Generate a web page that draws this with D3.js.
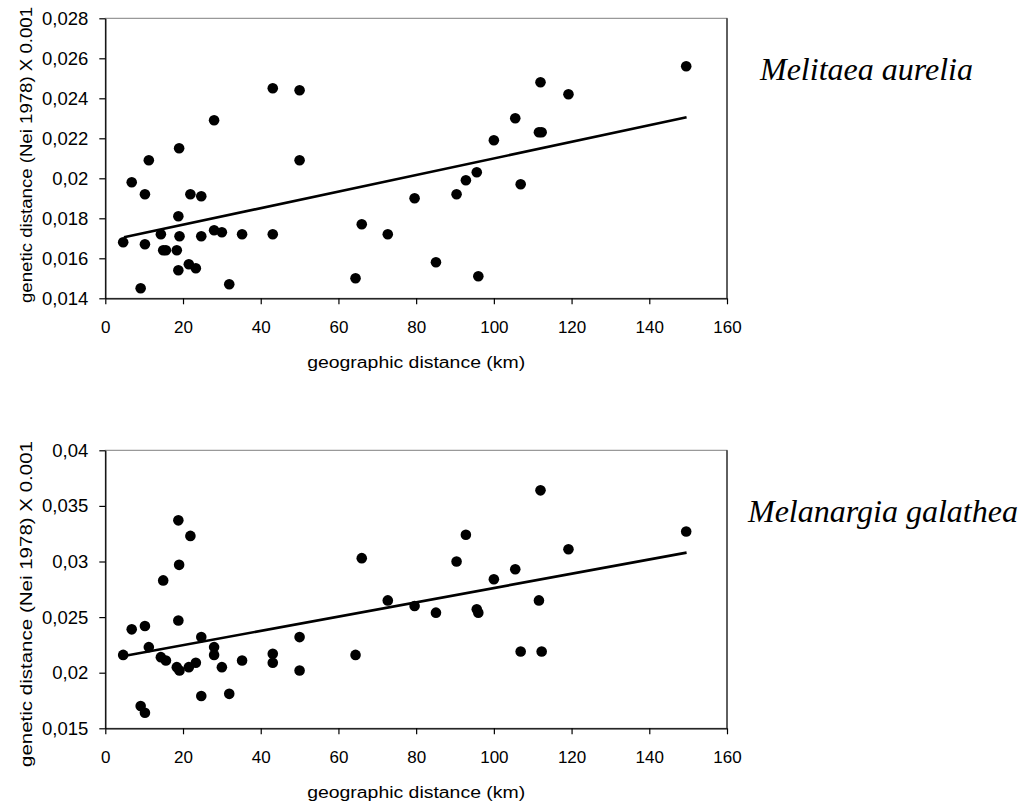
<!DOCTYPE html>
<html>
<head>
<meta charset="utf-8">
<script src="https://cdn.jsdelivr.net/npm/d3@7"></script>
<style>
  body { margin: 0; background: #fff; }
  svg { display: block; }
  .axisTitle { font-family: "Liberation Sans", Arial, sans-serif; font-size: 16px; fill: #000; }
  .species { font-family: "Liberation Serif", "Times New Roman", serif; font-style: italic; font-size: 32px; fill: #000; }
</style>
</head>
<body>
<div id="chart"></div>
<script>
// geographic distance (km) of each population pair, shared by both species
var distance = [4.6, 6.8, 9.1, 10.2, 10.2, 11.2, 14.3, 14.9, 15.6, 18.4,
    18.8, 18.8, 19.0, 19.1, 21.5, 21.9, 23.3, 24.7, 24.7, 28.0,
    28.0, 30.0, 31.9, 35.2, 43.1, 43.1, 50.0, 50.0, 64.4, 66.0,
    72.7, 79.6, 85.1, 90.4, 92.8, 95.6, 96.0, 100.0, 105.5, 106.9,
    111.6, 112.3, 112.0, 119.2, 149.5];

// genetic distance, Melitaea aurelia
var aurelia = [0.0168, 0.0198, 0.0145, 0.0192, 0.0167, 0.0209, 0.0172, 0.0164, 0.0164, 0.0164,
    0.0181, 0.0154, 0.0215, 0.0171, 0.0157, 0.0192, 0.0155, 0.0191, 0.0171, 0.0229,
    0.0174, 0.0173, 0.0147, 0.0172, 0.0245, 0.0172, 0.0244, 0.0209, 0.0150, 0.0177,
    0.0172, 0.0190, 0.0158, 0.0192, 0.0199, 0.0203, 0.0151, 0.0219, 0.0230, 0.0197,
    0.0223, 0.0223, 0.0248, 0.0242, 0.0256];

// genetic distance, Melanargia galathea
var galathea = [0.0216, 0.0239, 0.0170, 0.0164, 0.0242, 0.0223, 0.0214, 0.0283, 0.0211, 0.0205,
    0.0337, 0.0247, 0.0297, 0.0202, 0.0205, 0.0323, 0.0209, 0.0232, 0.0179, 0.0223,
    0.0216, 0.0205, 0.0181, 0.0211, 0.0217, 0.0209, 0.0232, 0.0202, 0.0216, 0.0303,
    0.0265, 0.0260, 0.0254, 0.0300, 0.0324, 0.0257, 0.0254, 0.0284, 0.0293, 0.0219,
    0.0265, 0.0219, 0.0364, 0.0311, 0.0327];

// linear trend lines (ends)
var trendX = [4.8, 149.6];
var trendAurelia = [0.01705, 0.02305];
var trendGalathea = [0.0215, 0.0308];

// tick labels
var xTicks = [0, 20, 40, 60, 80, 100, 120, 140, 160];
var yTicksAurelia = [0.014, 0.016, 0.018, 0.02, 0.022, 0.024, 0.026, 0.028];
var yTicksGalathea = [0.015, 0.02, 0.025, 0.03, 0.035, 0.04];

var svgWidth = 1035;
var svgHeight = 802;

var svg = d3.select("#chart")
    .append("svg")
    .attr("width", svgWidth)
    .attr("height", svgHeight);

var left = 105.3, right = 727;

function fmt(d) {
    return String(+d.toFixed(3)).replace(".", ",");
}

function drawPanel(p) {
    var xScale = d3.scaleLinear().domain([0, 160]).range([left, right]);
    var yScale = d3.scaleLinear()
        .domain([p.yTicks[0], p.yTicks[p.yTicks.length - 1]])
        .range([p.bottom, p.top]);

    var g = svg.append("g");

    // plot frame
    g.append("rect")
        .attr("x", left).attr("y", p.top)
        .attr("width", right - left).attr("height", p.bottom - p.top)
        .attr("fill", "none")
        .attr("stroke", "#808080")
        .attr("stroke-width", 1);
    g.append("line")
        .attr("x1", right).attr("x2", right)
        .attr("y1", p.top).attr("y2", p.bottom)
        .attr("stroke", "#000");

    // axes
    var xAxis = g.append("g")
        .attr("transform", `translate(0, ${p.bottom})`)
        .call(d3.axisBottom(xScale).tickValues(xTicks).tickSize(6).tickSizeOuter(0).tickPadding(17));
    var yAxis = g.append("g")
        .attr("transform", `translate(${left}, 0)`)
        .call(d3.axisLeft(yScale).tickValues(p.yTicks).tickFormat(fmt).tickSize(6).tickSizeOuter(0).tickPadding(11));
    [xAxis, yAxis].forEach(function(a) {
        a.attr("font-family", "Liberation Sans, Arial, sans-serif");
        a.select(".domain").attr("stroke", "#000").attr("stroke-width", 1.3);
        a.selectAll(".tick line").attr("stroke", "#000").attr("stroke-width", 1.2);
        a.selectAll(".tick text").attr("fill", "#000");
    });
    xAxis.attr("font-size", 17);
    yAxis.attr("font-size", 18.5);

    // trend line
    var trend = trendX.map(function(x, i) { return [x, p.trend[i]]; });
    g.append("path")
        .datum(trend)
        .attr("d", d3.line().x(d => xScale(d[0])).y(d => yScale(d[1])))
        .attr("fill", "none")
        .attr("stroke", "#000")
        .attr("stroke-width", 2.6);

    // points
    g.append("g")
        .selectAll("circle")
        .data(distance)
        .enter()
        .append("circle")
        .attr("cx", d => xScale(d))
        .attr("cy", (d, i) => yScale(p.values[i]))
        .attr("r", 5.3)
        .attr("fill", "#000");

    // axis titles
    g.append("text")
        .attr("class", "axisTitle")
        .attr("x", (left + right) / 2)
        .attr("y", p.bottom + 70)
        .attr("text-anchor", "middle")
        .attr("textLength", p.xTitleLen)
        .attr("lengthAdjust", "spacingAndGlyphs")
        .text("geographic distance (km)");

    g.append("text")
        .attr("class", "axisTitle")
        .attr("transform", `translate(32, ${p.yTitleMid}) rotate(-90)`)
        .attr("text-anchor", "middle")
        .attr("textLength", p.yTitleLen)
        .attr("lengthAdjust", "spacingAndGlyphs")
        .text("genetic distance (Nei 1978) X 0.001");

    // species name
    g.append("text")
        .attr("class", "species")
        .attr("x", p.nameX)
        .attr("y", p.nameY)
        .text(p.name);
}

drawPanel({
    top: 18.3, bottom: 298.3,
    yTicks: yTicksAurelia, values: aurelia, trend: trendAurelia,
    yTitleMid: 155, yTitleLen: 296, xTitleLen: 218,
    name: "Melitaea aurelia", nameX: 760, nameY: 80
});

drawPanel({
    top: 450.3, bottom: 728.3,
    yTicks: yTicksGalathea, values: galathea, trend: trendGalathea,
    yTitleMid: 604, yTitleLen: 326, xTitleLen: 218,
    name: "Melanargia galathea", nameX: 748, nameY: 522
});
</script>
</body>
</html>
